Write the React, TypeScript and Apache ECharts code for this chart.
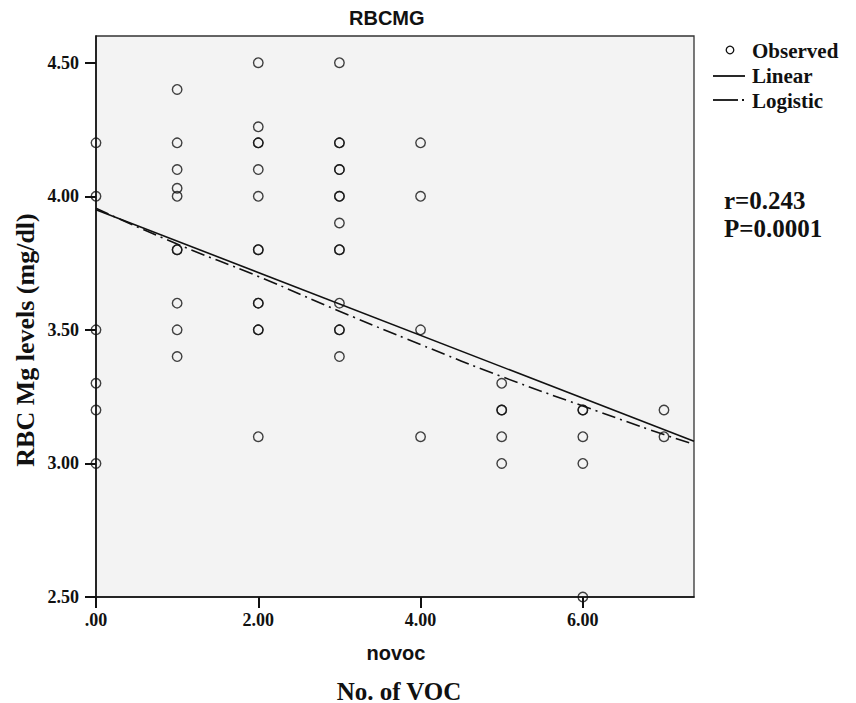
import React, { useEffect, useRef } from "react";
import * as echarts from "echarts";

const observed: [number, number][] = [
  [0, 4.2], [0, 4.0], [0, 3.5], [0, 3.3], [0, 3.2], [0, 3.0],
  [1, 4.4], [1, 4.2], [1, 4.1], [1, 4.03], [1, 4.0], [1, 3.8], [1, 3.8], [1, 3.6], [1, 3.5], [1, 3.4],
  [2, 4.5], [2, 4.26], [2, 4.2], [2, 4.2], [2, 4.1], [2, 4.0], [2, 3.8], [2, 3.8], [2, 3.6], [2, 3.6], [2, 3.5], [2, 3.5], [2, 3.1],
  [3, 4.5], [3, 4.2], [3, 4.2], [3, 4.1], [3, 4.1], [3, 4.0], [3, 4.0], [3, 3.9], [3, 3.8], [3, 3.8], [3, 3.6], [3, 3.5], [3, 3.5], [3, 3.4],
  [4, 4.2], [4, 4.0], [4, 3.5], [4, 3.1],
  [5, 3.3], [5, 3.2], [5, 3.2], [5, 3.1], [5, 3.0],
  [6, 3.2], [6, 3.2], [6, 3.1], [6, 3.0], [6, 2.5],
  [7, 3.2], [7, 3.1],
];

const linearFit: [number, number][] = [
  [0, 3.95],
  [7.37, 3.083],
];

const logisticFit: [number, number][] = [
  [0, 3.955], [1, 3.821], [2, 3.7], [3, 3.57], [4, 3.445], [5, 3.325], [6, 3.215], [7, 3.108], [7.37, 3.072],
];

const xTicks = [0, 2, 4, 6];
const yTicks = [2.5, 3.0, 3.5, 4.0, 4.5];

const SERIF = "Liberation Serif";
const SANS = "Liberation Sans";

export default function App() {
  const ref = useRef<HTMLDivElement>(null);
  useEffect(() => {
    if (!ref.current) return;
    const chart = echarts.init(ref.current, null, { renderer: "svg" });
    const fmt = (v: number) => (v === 0 ? ".00" : v.toFixed(2));
    chart.setOption({
      animation: false,
      backgroundColor: "#fff",
      grid: {
        left: 96,
        top: 36,
        width: 598,
        height: 561,
        show: true,
        backgroundColor: "#f3f3f3",
        borderColor: "#333",
        borderWidth: 1.3,
      },
      xAxis: {
        type: "value",
        min: 0,
        max: 7.37,
        interval: 2,
        splitLine: { show: false },
        axisLine: { show: true, lineStyle: { color: "#111", width: 1.6 } },
        axisTick: { show: true, length: 11, customValues: xTicks, lineStyle: { color: "#111", width: 2 } },
        axisLabel: {
          customValues: xTicks,
          formatter: fmt,
          margin: 14,
          fontFamily: SERIF,
          fontWeight: "bold",
          fontSize: 18,
          color: "#111",
        },
      },
      yAxis: {
        type: "value",
        min: 2.5,
        max: 4.6,
        interval: 0.5,
        splitLine: { show: false },
        axisLine: { show: true, lineStyle: { color: "#111", width: 1.6 } },
        axisTick: { show: true, length: 11, customValues: yTicks, lineStyle: { color: "#111", width: 2 } },
        axisLabel: {
          customValues: yTicks,
          formatter: fmt,
          margin: 17,
          fontFamily: SERIF,
          fontWeight: "bold",
          fontSize: 18,
          color: "#111",
        },
      },
      series: [
        {
          name: "Observed",
          type: "scatter",
          data: observed,
          symbol: "circle",
          symbolSize: 9.5,
          clip: true,
          itemStyle: { color: "rgba(0,0,0,0)", borderColor: "#111", borderWidth: 1.4 },
          z: 3,
        },
        {
          name: "Linear",
          type: "line",
          data: linearFit,
          showSymbol: false,
          lineStyle: { color: "#111", width: 1.6, type: "solid" },
          z: 4,
        },
        {
          name: "Logistic",
          type: "line",
          data: logisticFit,
          smooth: true,
          showSymbol: false,
          lineStyle: { color: "#111", width: 1.6, type: [14, 5, 2, 5] },
          z: 4,
        },
      ],
      graphic: [
        {
          type: "text",
          left: 349,
          top: 8,
          style: { text: "RBCMG", font: `bold 20px "${SANS}"`, fill: "#111" },
        },
        {
          type: "text",
          x: 396,
          y: 653,
          style: { text: "novoc", font: `bold 20px "${SANS}"`, fill: "#111", align: "center", verticalAlign: "middle" },
        },
        {
          type: "text",
          x: 399,
          y: 691,
          style: { text: "No. of VOC", font: `bold 25px "${SERIF}"`, fill: "#111", align: "center", verticalAlign: "middle" },
        },
        {
          type: "text",
          x: 25,
          y: 340,
          rotation: Math.PI / 2,
          style: { text: "RBC Mg levels (mg/dl)", font: `bold 26px "${SERIF}"`, fill: "#111", align: "center", verticalAlign: "middle" },
        },
        {
          type: "circle",
          shape: { cx: 730, cy: 50, r: 3.8 },
          style: { fill: "none", stroke: "#111", lineWidth: 1.3 },
        },
        {
          type: "text",
          x: 752,
          y: 51,
          style: { text: "Observed", font: `bold 21px "${SERIF}"`, fill: "#111", verticalAlign: "middle" },
        },
        {
          type: "line",
          shape: { x1: 713, y1: 76, x2: 745, y2: 76 },
          style: { stroke: "#111", lineWidth: 1.8 },
        },
        {
          type: "text",
          x: 752,
          y: 76,
          style: { text: "Linear", font: `bold 21px "${SERIF}"`, fill: "#111", verticalAlign: "middle" },
        },
        {
          type: "line",
          shape: { x1: 713, y1: 100, x2: 738, y2: 100 },
          style: { stroke: "#111", lineWidth: 1.8 },
        },
        {
          type: "line",
          shape: { x1: 742, y1: 100, x2: 744, y2: 100 },
          style: { stroke: "#111", lineWidth: 1.8 },
        },
        {
          type: "text",
          x: 752,
          y: 101,
          style: { text: "Logistic", font: `bold 21px "${SERIF}"`, fill: "#111", verticalAlign: "middle" },
        },
        {
          type: "text",
          x: 724,
          y: 200,
          style: { text: "r=0.243", font: `bold 25px "${SERIF}"`, fill: "#111", verticalAlign: "middle" },
        },
        {
          type: "text",
          x: 724,
          y: 228,
          style: { text: "P=0.0001", font: `bold 25px "${SERIF}"`, fill: "#111", verticalAlign: "middle" },
        },
      ],
    });
    return () => chart.dispose();
  }, []);
  return <div ref={ref} style={{ position: "absolute", left: 0, top: 0, width: 856, height: 703 }} />;
}
